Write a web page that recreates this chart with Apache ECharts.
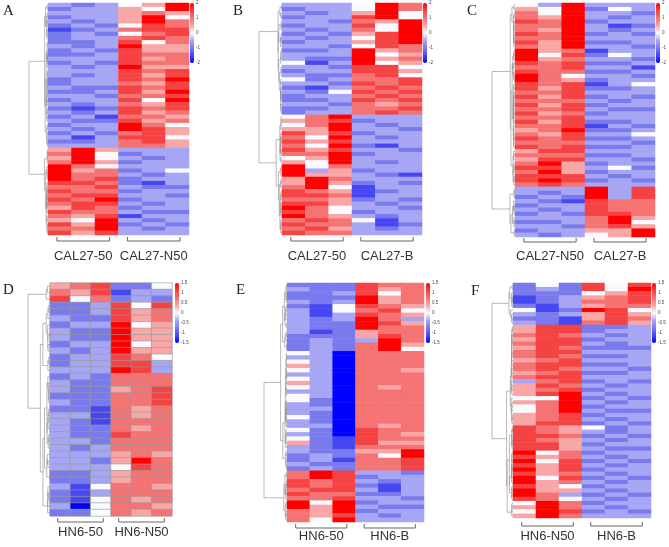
<!DOCTYPE html>
<html>
<head>
<meta charset="utf-8">
<script src="https://cdn.jsdelivr.net/npm/echarts@6/dist/echarts.min.js"></script>
<style>
  html, body { margin: 0; padding: 0; background: #fff; }
  #chart { width: 669px; height: 547px; }
</style>
</head>
<body>
<div id="chart"></div>
<script>
// one string per gene (row), one digit per sample (column)
// 0 = strongest blue, 4 = white, 8 = strongest red (scaled to each panel's range)
const rowsA = [
  '323458','233548','333565','233584','323586','232476','123677','232467','233676','223746',
  '323855','232755','223766','333756','232766','323855','333767','323757','233768','233657',
  '322767','223758','332667','233748','323657','212767','323756','231665','322756','233864',
  '323875','232675','313774','223675','333665',
  '585333','684233','584323','685233','864333','856234','866323','867233','776213','667322',
  '766233','677332','768233','677323','576233','766322','657133','548323','758232','668323',
  '757333'
];
const rowsB = [
  '333486','233486','323584','233784','332658','233748','323648','232578','323478','233578',
  '332476','223856','333845','322856','413845','332774','233775','322674','423667','332767',
  '213676','324767','233676','223767','332656','223667','233676',
  '468333','567233','468323','558332','757233','648323','757333','648213','757332','668233',
  '458333','548323','846333','835233','855321','586333','585232','684133','765123','776133',
  '665232','775323','864332','764233','865323','676413','766312','675323','766333'
];
const rowsC = [
  '438333','548243','648332','658323','768233','668312','658323','768232','668333','758223',
  '658332','856133','847243','856332','767223','667331','766223','864332','865233','767134',
  '757223','667333','757232','666323','757233','667322','756233','667333','757223','667132',
  '568223','657334','767223','666332','767223','577333','666223','577332','685233','775342',
  '685233','777323','787232','676333',
  '333837','323837','232837','321766','233766','323766','232776','333685','223684','332675',
  '233558','323458'
];
const rowsD = [
  '567224','657133','746232','223747','223756','322756','233845','322855','322855','233845',
  '323855','233764','233773','333873','232666','322666','322567','222667','322667','221656',
  '331656','321666','322656','322766','332666','323666','333565','332586','333476','223566',
  '223566','314665','213666','214656','304665','224656'
];
const rowsE = [
  '222766','322756','223746','222856','323856','214765','314674','313765','323863','322875',
  '322866','312566','222576','232386','232685','232684','430666','330666','430666','530666',
  '430665','330666','430666','530666','430656','330666','430666','420666','320666','330666',
  '320666','420666','320666','330656','420766','320765','421766','521755','321666','322558',
  '232648','231667','322667','232667',
  '687332','687233','767323','767213','677313','766223','667332','848233','858322','658233',
  '657323','648333'
];
const rowsF = [
  '242747','232748','222457','123567','123667','213566','412874','323575','221576','321675',
  '577223','577233','676323','577233','677323','576222','677333','676223','567333','677223',
  '676332','567223','677333','367232','576323','567233','578323','448232','568323','468233',
  '468322','567233','567323','577232','765423','765323','776232','765323','775233','775322',
  '846233','756323','847232','757323','857233','756323','847232','856323','754233','855323',
  '863232','764323','486233','586323','487232','586333'
];

const groupsA = ['CAL27-50', 'CAL27-N50'];
const groupsB = ['CAL27-50', 'CAL27-B'];
const groupsC = ['CAL27-N50', 'CAL27-B'];
const groupsD = ['HN6-50', 'HN6-N50'];
const groupsE = ['HN6-50', 'HN6-B'];
const groupsF = ['HN6-N50', 'HN6-B'];

const letters = ['A', 'B', 'C', 'D', 'E', 'F'];
const samples = ['1', '2', '3', '4', '5', '6'];
const rangeTop = 2, stepTop = 1;        // colour key of A-C
const rangeBottom = 1.5, stepBottom = 0.5; // colour key of D-F

// blue - white - red key, one stop per half unit of the digit scale
const palette = ['#0000ff', '#4747f2', '#7a7aef', '#a6a6f5', '#fbfbff',
                 '#f8a6a6', '#f57373', '#f54242', '#ff0000'];

const panels = [
  { rows: rowsA, groups: groupsA, max: rangeTop, step: stepTop },
  { rows: rowsB, groups: groupsB, max: rangeTop, step: stepTop },
  { rows: rowsC, groups: groupsC, max: rangeTop, step: stepTop },
  { rows: rowsD, groups: groupsD, max: rangeBottom, step: stepBottom, border: true },
  { rows: rowsE, groups: groupsE, max: rangeBottom, step: stepBottom },
  { rows: rowsF, groups: groupsF, max: rangeBottom, step: stepBottom }
];

// pixel layout: heatmap box, dendrogram left edge, colour key x, letter position, label margin, bracket offset
const layout = [
  { x: 48,  y: 3,   w: 141, h: 232, dx: 29,  cb: 190, lx: 3,   ly: 4,   lm: 15, bo: 6 },
  { x: 282, y: 3,   w: 140, h: 232, dx: 259, cb: 423, lx: 233, ly: 4,   lm: 15, bo: 6 },
  { x: 515, y: 3,   w: 140, h: 234, dx: 492, cb: 656, lx: 467, ly: 4,   lm: 13, bo: 5 },
  { x: 50,  y: 283, w: 122, h: 233, dx: 28,  cb: 175, lx: 3,   ly: 283, lm: 10, bo: 6 },
  { x: 287, y: 283, w: 137, h: 239, dx: 264, cb: 426, lx: 236, ly: 283, lm: 8,  bo: 6 },
  { x: 513, y: 283, w: 138, h: 235, dx: 492, cb: 652, lx: 471, ly: 284, lm: 12, bo: 8 }
];

// order-preserving clustering of the rows (only neighbours merge, Ward distance)
function dendrogram(vals) {
  let nodes = vals.map((v, i) => ({ c: v.slice(), n: 1, y: i, h: 0 }));
  const segs = [];
  while (nodes.length > 1) {
    let best = 0, bd = Infinity;
    for (let i = 0; i < nodes.length - 1; i++) {
      const a = nodes[i], b = nodes[i + 1];
      let s = 0;
      for (let k = 0; k < a.c.length; k++) s += (a.c[k] - b.c[k]) ** 2;
      const d = Math.sqrt(2 * a.n * b.n / (a.n + b.n) * s);
      if (d < bd) { bd = d; best = i; }
    }
    const a = nodes[best], b = nodes[best + 1];
    const h = Math.max(bd, a.h, b.h) + 0.05;
    segs.push([[a.h, a.y], [h, a.y], [h, b.y], [b.h, b.y]]);
    const n = a.n + b.n;
    nodes.splice(best, 2, {
      c: a.c.map((x, k) => (x * a.n + b.c[k] * b.n) / n),
      n: n,
      y: (a.y + b.y) / 2,
      h: h
    });
  }
  return { segs: segs, top: nodes[0].h };
}

const chart = echarts.init(document.getElementById('chart'));
const grid = [], xAxis = [], yAxis = [], series = [], visualMap = [], graphic = [];

panels.forEach((p, i) => {
  const L = layout[i];
  const vals = p.rows.map(r => r.split('').map(d => (Number(d) - 4) / 4 * p.max));
  const n = vals.length;
  const rowNames = vals.map((v, j) => 'g' + j);
  const heat = [];
  vals.forEach((v, j) => v.forEach((val, k) => heat.push([k, j, val])));
  const tree = dendrogram(vals);

  const g0 = grid.length, x0 = xAxis.length, y0 = yAxis.length;
  grid.push({ left: L.x, top: L.y, width: L.w, height: L.h });
  grid.push({ left: L.dx, top: L.y, width: L.x - L.dx, height: L.h });
  grid.push({ left: L.cb, top: L.y, width: 4, height: 60 });

  xAxis.push({ type: 'category', gridIndex: g0, data: samples, show: false });
  xAxis.push({
    type: 'category', gridIndex: g0, data: p.groups, position: 'bottom',
    axisLine: { show: false }, axisTick: { show: false },
    axisLabel: { interval: 0, margin: L.lm, fontSize: 13, color: '#333', fontFamily: 'Liberation Sans' }
  });
  xAxis.push({ type: 'value', gridIndex: g0 + 1, min: 0, max: tree.top, inverse: true, show: false });
  xAxis.push({ type: 'value', gridIndex: g0 + 2, min: 0, max: 1, show: false });

  yAxis.push({ type: 'category', gridIndex: g0, data: rowNames, inverse: true, show: false });
  yAxis.push({ type: 'value', gridIndex: g0 + 1, min: -0.5, max: n - 0.5, inverse: true, show: false });
  yAxis.push({
    type: 'value', gridIndex: g0 + 2, min: -p.max, max: p.max, interval: p.step, position: 'right',
    axisLine: { show: false }, axisTick: { show: false }, splitLine: { show: false },
    axisLabel: { fontSize: 4.5, margin: 2, color: '#444' }
  });

  visualMap.push({
    type: 'continuous', seriesIndex: series.length, min: -p.max, max: p.max,
    left: L.cb, top: L.y, itemWidth: 4, itemHeight: 60, padding: 0,
    calculable: false, hoverLink: false,
    inRange: { color: palette }
  });

  series.push({
    type: 'heatmap', xAxisIndex: x0, yAxisIndex: y0, data: heat, silent: true,
    itemStyle: p.border ? { borderColor: '#999', borderWidth: 0.6 } : { borderWidth: 0 },
    emphasis: { disabled: true }
  });
  series.push({
    type: 'lines', coordinateSystem: 'cartesian2d', xAxisIndex: x0 + 2, yAxisIndex: y0 + 1,
    polyline: true, silent: true,
    lineStyle: { color: '#8a8a8a', width: 0.6, opacity: 1 },
    data: tree.segs.map(s => ({ coords: s }))
  });

  graphic.push({
    type: 'text', left: L.lx, top: L.ly,
    style: { text: letters[i], font: '15px "Liberation Serif"', fill: '#222' }
  });
  const colW = L.w / 6, yb = L.y + L.h + L.bo;
  [0, 1].forEach(g => {
    const x1 = L.x + colW * 3 * g + colW * 0.38;
    const x2 = L.x + colW * (3 * g + 3) - colW * 0.38;
    graphic.push({
      type: 'polyline',
      shape: { points: [[x1, yb - 4], [x1, yb], [x2, yb], [x2, yb - 4]] },
      style: { stroke: '#666', lineWidth: 1, fill: null }
    });
  });
});

chart.setOption({
  animation: false,
  backgroundColor: '#fff',
  grid: grid,
  xAxis: xAxis,
  yAxis: yAxis,
  visualMap: visualMap,
  series: series,
  graphic: graphic
});
</script>
</body>
</html>
